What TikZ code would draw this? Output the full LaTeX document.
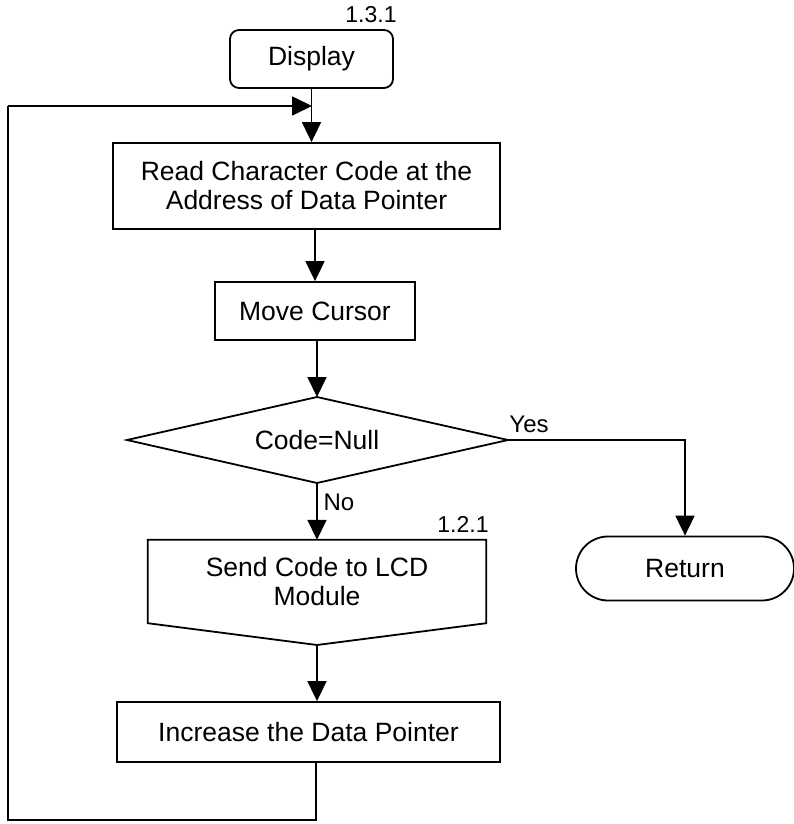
\documentclass[tikz,border=0pt]{standalone}
\usepackage{fontspec}
\setmainfont{Liberation Sans}
\usetikzlibrary{arrows.meta,shapes.misc,shapes.geometric}
\begin{document}
\begin{tikzpicture}[x=1pt,y=-1pt,
  every node/.style={font=\fontsize{26.5}{29}\selectfont, inner sep=0pt, align=center},
  box/.style={draw, line width=1.8pt, rectangle},
  lbl/.style={font=\fontsize{24}{26}\selectfont},
  num/.style={font=\fontsize{23}{26}\selectfont},
  conn/.style={line width=1.8pt, -{Triangle[length=20pt,width=19pt]}},
  plain/.style={line width=1.8pt}]
\useasboundingbox (0,0) rectangle (794,824);
\node[box, rounded corners=9pt, minimum width=163, minimum height=58] (disp) at (311.5,59) {Display};
\node[num] (l131) at (371,15) {1.3.1};
\node[box, minimum width=387, minimum height=86] (read) at (306.5,186) {Read Character Code at the\\Address of Data Pointer};
\node[box, minimum width=200, minimum height=58] (move) at (315,311) {Move Cursor};
\node (dec) at (317,440) {Code=Null};
\coordinate (dtop) at (317,397);
\coordinate (dbot) at (317,483);
\coordinate (dleft) at (127,440);
\coordinate (dright) at (508,440);
\draw[line width=1.8pt] (dtop) -- (dright) -- (dbot) -- (dleft) -- cycle;
\node[minimum width=338, minimum height=83] (send) at (317,581.5) {Send Code to LCD\\Module};
\draw[line width=1.8pt] (send.north west) -- (send.north east) -- (send.south east) -- (send.south |- 0,645) coordinate (sendpt) -- (send.south west) -- cycle;
\node[num] (l121) at (463,524) {1.2.1};
\node[box, rounded rectangle, minimum width=218, minimum height=64] (ret) at (685,568.5) {Return};
\node[box, minimum width=383, minimum height=60] (inc) at (308.5,732) {Increase the Data Pointer};
\node[lbl] (yes) at (529,424) {Yes};
\node[lbl] (no) at (339,502) {No};
\coordinate (join) at (312,106);
\coordinate (lb) at (316,820);
\coordinate (lbl2) at (8,820);
\coordinate (ltl) at (8,106);
\draw[conn] (disp.south) -- (disp.south |- read.north);
\draw[conn] (move.north |- read.south) -- (move.north);
\draw[conn] (move.south -| dtop) -- (dtop);
\draw[conn] (dbot) -- (dbot |- send.north);
\draw[conn] (dright) -| (ret.north);
\draw[conn] (sendpt) -- (sendpt |- inc.north);
\draw[plain] (inc.south -| lb) -- (lb) -- (lbl2) -- (ltl);
\draw[conn] (ltl) -- (join);
\end{tikzpicture}
\end{document}
